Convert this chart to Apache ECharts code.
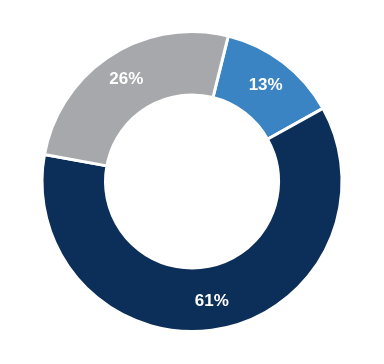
<!DOCTYPE html>
<html>
<head>
<meta charset="utf-8">
<style>html,body{margin:0;padding:0;background:#fff;}#c{width:384px;height:364px;}</style>
<script src="https://cdn.jsdelivr.net/npm/echarts@6/dist/echarts.min.js"></script>
</head>
<body>
<div id="c"></div>
<script>
const categories = ['A', 'B', 'C'];
const values = [13, 61, 26];
const colors = ['#3a84c4', '#0b2f58', '#a7a8ab'];

const chart = echarts.init(document.getElementById('c'), null, {renderer: 'canvas'});
chart.setOption({
  animation: false,
  series: [{
    type: 'pie',
    center: [192, 181.5],
    radius: [86.5, 150],
    startAngle: 76,
    clockwise: true,
    avoidLabelOverlap: false,
    itemStyle: {borderColor: '#ffffff', borderWidth: 3},
    label: {
      show: true,
      position: 'inside',
      formatter: p => p.value + '%',
      color: '#ffffff',
      fontFamily: 'Liberation Sans, Arial, sans-serif',
      fontWeight: 'bold',
      fontSize: 17
    },
    labelLine: {show: false},
    emphasis: {disabled: true},
    data: categories.map((c, i) => ({name: c, value: values[i], itemStyle: {color: colors[i]}}))
  }]
});
</script>
</body>
</html>
